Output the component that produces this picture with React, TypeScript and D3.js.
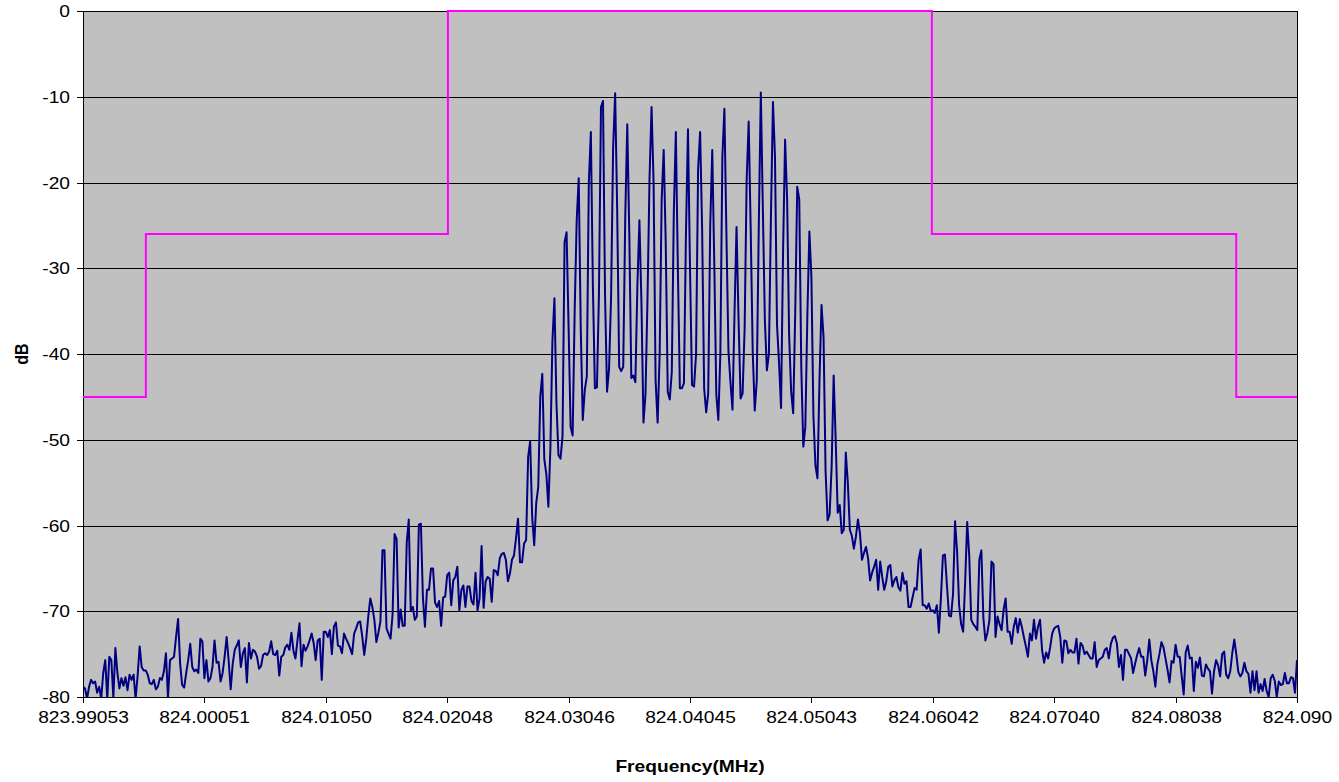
import React from 'react';
import * as d3 from 'd3';

// Frequency span of the sweep (MHz); samples are evenly spaced over it
const F_START = 823.99053;
const F_END = 824.0904;

const spectrumDb: number[] = [
  -78.8, -79.0, -80.2, -78.8, -78.0, -78.4, -78.2, -79.5, -78.8, -80.2,
  -77.2, -75.7, -80.2, -75.3, -75.7, -80.1, -74.3, -77.2, -79.0, -77.8,
  -78.7, -77.7, -79.2, -77.4, -78.0, -77.4, -80.2, -77.5, -74.1, -76.5,
  -76.9, -76.9, -77.4, -78.4, -78.5, -78.0, -79.1, -78.8, -77.8, -78.0,
  -77.0, -74.9, -80.1, -75.7, -75.5, -75.3, -73.0, -70.9, -76.1, -78.6,
  -78.9, -77.2, -75.7, -73.8, -76.5, -77.0, -76.8, -77.2, -73.2, -73.5,
  -77.8, -75.7, -78.2, -77.8, -76.5, -73.4, -76.0, -75.9, -78.2, -77.2,
  -75.3, -73.0, -75.8, -79.1, -76.1, -74.5, -74.0, -73.4, -76.5, -74.9,
  -74.3, -78.3, -73.7, -75.5, -74.5, -74.7, -75.3, -76.7, -76.4, -75.1,
  -74.9, -75.1, -74.7, -73.5, -75.0, -75.1, -74.6, -77.5, -75.3, -75.1,
  -74.2, -73.9, -74.5, -72.5, -74.6, -75.5, -73.4, -71.4, -76.4, -73.9,
  -74.6, -74.1, -73.4, -72.6, -73.7, -75.7, -73.4, -73.2, -78.0, -72.4,
  -72.4, -73.0, -72.2, -75.0, -71.8, -71.3, -74.0, -74.1, -74.9, -72.6,
  -73.2, -73.7, -74.3, -75.0, -72.6, -72.0, -71.3, -71.2, -72.9, -75.1,
  -73.2, -70.6, -68.5, -69.5, -71.0, -73.6, -72.5, -71.2, -62.9, -62.9,
  -72.0, -72.6, -73.2, -70.4, -61.0, -61.6, -71.9, -69.8, -71.7, -71.7,
  -62.0, -59.3, -69.9, -69.5, -71.0, -70.6, -59.9, -59.8, -68.4, -71.8,
  -67.5, -67.5, -65.0, -65.0, -69.0, -69.5, -68.8, -71.7, -68.4, -68.3,
  -65.8, -65.5, -69.3, -66.4, -66.0, -64.8, -69.9, -67.5, -67.0, -69.5,
  -67.1, -67.1, -68.8, -69.2, -65.5, -69.9, -68.5, -62.4, -69.6, -66.5,
  -66.0, -66.2, -68.9, -65.2, -65.3, -65.8, -63.8, -63.3, -63.2, -64.0,
  -66.5, -65.6, -64.0, -63.5, -61.5, -59.2, -64.3, -64.3, -62.1, -61.7,
  -52.0, -50.2, -59.0, -62.3, -57.4, -55.5, -45.0, -42.3, -52.3, -54.0,
  -57.8, -51.0, -38.5, -33.5, -45.8, -51.8, -52.2, -49.6, -27.0, -25.8,
  -36.9, -48.5, -49.5, -35.0, -24.4, -19.5, -37.0, -47.7, -44.2, -42.6,
  -20.0, -14.1, -32.0, -44.0, -43.9, -33.0, -11.2, -10.5, -33.0, -44.4,
  -41.7, -33.3, -16.0, -9.6, -23.0, -41.5, -42.0, -41.5, -24.0, -13.2,
  -26.0, -42.8, -42.5, -43.3, -32.0, -24.4, -34.0, -48.0, -44.7, -33.5,
  -19.5, -11.2, -20.0, -43.1, -48.0, -40.0, -22.0, -16.2, -27.0, -44.4,
  -45.3, -42.1, -23.5, -14.1, -30.0, -44.0, -44.0, -43.4, -26.0, -13.8,
  -30.0, -43.6, -43.8, -40.0, -18.5, -14.1, -25.5, -44.0, -46.8, -44.6,
  -25.0, -16.2, -29.4, -44.7, -47.7, -40.0, -17.0, -11.4, -26.0, -39.6,
  -43.3, -46.5, -35.3, -25.2, -36.0, -45.2, -44.6, -37.0, -19.7, -12.9,
  -25.5, -39.7, -46.6, -43.1, -25.0, -9.5, -23.0, -36.0, -41.9, -40.0,
  -24.0, -10.6, -17.0, -36.6, -41.0, -46.3, -28.0, -15.0, -22.0, -37.9,
  -44.4, -46.9, -35.3, -20.5, -22.0, -41.5, -50.8, -48.5, -35.5, -25.7,
  -31.0, -47.2, -53.0, -54.5, -43.0, -34.3, -38.0, -53.6, -59.4, -58.7,
  -53.1, -42.5, -50.0, -58.5, -57.6, -60.9, -60.5, -51.5, -55.0, -60.5,
  -61.2, -62.7, -61.3, -59.3, -60.9, -64.0, -63.2, -62.5, -63.8, -66.4,
  -65.5, -64.8, -64.0, -67.5, -64.2, -66.0, -67.5, -66.5, -64.8, -64.6,
  -67.1, -66.4, -66.0, -67.2, -67.6, -65.5, -66.8, -66.5, -69.5, -69.5,
  -68.4, -67.3, -67.5, -64.0, -62.8, -69.3, -69.3, -69.7, -69.1, -70.0,
  -69.9, -70.2, -69.3, -72.5, -68.5, -63.5, -63.4, -67.0, -70.5, -70.6,
  -68.0, -59.5, -63.0, -69.3, -71.5, -72.4, -66.5, -59.6, -63.5, -71.0,
  -71.5, -71.8, -72.2, -64.0, -62.9, -70.8, -73.4, -72.5, -71.0, -64.2,
  -64.5, -73.0, -70.6, -71.5, -72.2, -69.8, -68.5, -72.4, -72.4, -73.8,
  -71.8, -70.8, -72.5, -70.9, -71.8, -73.0, -74.1, -75.3, -72.6, -73.4,
  -71.0, -73.2, -71.8, -71.0, -74.5, -76.0, -74.8, -75.5, -74.2, -72.6,
  -72.0, -71.8, -71.7, -73.0, -76.0, -73.4, -73.5, -74.9, -74.5, -74.8,
  -74.8, -73.2, -76.1, -73.7, -74.0, -75.0, -74.7, -75.1, -75.5, -75.5,
  -73.6, -76.5, -75.7, -75.5, -75.3, -74.5, -74.3, -75.5, -73.8, -73.1,
  -72.9, -73.8, -76.5, -75.1, -78.0, -74.5, -74.5, -75.0, -75.5, -77.2,
  -76.1, -75.1, -74.3, -75.3, -75.3, -77.5, -75.7, -73.3, -75.7, -77.0,
  -78.8, -76.2, -75.0, -73.6, -74.2, -75.5, -76.8, -78.3, -75.8, -76.0,
  -73.9, -75.3, -75.3, -77.5, -79.7, -74.8, -74.0, -75.5, -75.4, -79.3,
  -75.9, -76.6, -75.4, -77.5, -77.6, -76.2, -76.7, -77.0, -79.6, -77.0,
  -75.7, -76.3, -77.6, -75.0, -74.7, -77.4, -77.8, -77.0, -74.9, -73.3,
  -75.0, -77.1, -77.6, -77.2, -76.0, -77.0, -77.3, -79.5, -77.0, -79.2,
  -77.0, -79.5, -78.5, -79.3, -77.9, -79.3, -80.0, -77.8, -77.4, -78.1,
  -80.0, -78.2, -78.6, -78.5, -77.2, -78.4, -78.4, -77.7, -77.8, -79.5,
  -75.7,
];

// Category tick labels on the frequency axis
const tickLabels = [
  '823.99053', '824.00051', '824.01050', '824.02048', '824.03046',
  '824.04045', '824.05043', '824.06042', '824.07040', '824.08038', '824.090',
];

// dB gridlines / tick values
const yTicks = [0, -10, -20, -30, -40, -50, -60, -70, -80];

// Spectral emission mask (limit line)
const maskFreqs = [
  823.99053, 823.9957, 823.9957, 824.02055, 824.02055,
  824.06036, 824.06036, 824.0854, 824.0854, 824.0904,
];
const maskDb = [-45, -45, -26, -26, 0, 0, -26, -26, -45, -45];

const FONT = "'Liberation Sans', Arial, sans-serif";
const SX = 1.2; // horizontal stretch of the original bitmap text

export default function App() {
  const W = 1339;
  const H = 782;
  const left = 83;
  const right = 1297;
  const top = 11;
  const bottom = 697;

  const n = spectrumDb.length;
  const freqs = spectrumDb.map((_, i) => F_START + ((F_END - F_START) * i) / (n - 1));

  const x = d3.scaleLinear().domain([F_START, F_END]).range([left, right]);
  const y = d3.scaleLinear().domain([-80, 0]).range([bottom, top]);

  const specPath = d3
    .line<number>()
    .x((_, i) => x(freqs[i]))
    .y((d) => y(d))(spectrumDb) as string;

  const maskPath = d3
    .line<number>()
    .x((_, i) => x(maskFreqs[i]))
    .y((d) => y(d))(maskDb) as string;

  const tickStep = (n - 1) / (tickLabels.length - 1);

  return (
    <svg
      width={W}
      height={H}
      style={{ position: 'absolute', left: 0, top: 0, background: '#fff' }}
      fontFamily={FONT}
    >
      <defs>
        <clipPath id="plot">
          <rect x={left} y={top} width={right - left} height={bottom - top} />
        </clipPath>
      </defs>
      <rect x={left} y={top} width={right - left} height={bottom - top} fill="#C0C0C0" />
      {yTicks.map((t) => (
        <line
          key={'g' + t}
          x1={left}
          x2={right}
          y1={Math.round(y(t)) + 0.5}
          y2={Math.round(y(t)) + 0.5}
          stroke="#000"
          strokeWidth={1}
        />
      ))}
      <path d={specPath} fill="none" stroke="#000080" strokeWidth={2} clipPath="url(#plot)" strokeLinejoin="round" />
      <rect x={left + 0.5} y={top + 0.5} width={right - left} height={bottom - top} fill="none" stroke="#000" strokeWidth={1} />
      <path d={maskPath} fill="none" stroke="#FF00FF" strokeWidth={2} />
      {yTicks.map((t) => (
        <g key={'y' + t}>
          <line x1={left - 6} x2={left} y1={Math.round(y(t)) + 0.5} y2={Math.round(y(t)) + 0.5} stroke="#000" />
          <text
            transform={`translate(${left - 13},${y(t) + 6}) scale(${SX},1)`}
            textAnchor="end"
            fontSize={16}
            fill="#000"
          >
            {t}
          </text>
        </g>
      ))}
      {tickLabels.map((lab, k) => {
        const xx = Math.round(x(freqs[Math.round(k * tickStep)])) + 0.5;
        return (
          <g key={'x' + k}>
            <line x1={xx} x2={xx} y1={bottom} y2={bottom + 6} stroke="#000" />
            <text
              transform={`translate(${xx},${bottom + 26}) scale(${SX},1)`}
              textAnchor="middle"
              fontSize={16}
              fill="#000"
            >
              {lab}
            </text>
          </g>
        );
      })}
      <text
        transform={`translate(${(left + right) / 2},${H - 10}) scale(${SX},1)`}
        textAnchor="middle"
        fontSize={16}
        fontWeight="bold"
        fill="#000"
      >
        Frequency(MHz)
      </text>
      <text
        transform={`translate(28,${(top + bottom) / 2}) rotate(-90) scale(1,${SX})`}
        textAnchor="middle"
        fontSize={16}
        fontWeight="bold"
        fill="#000"
      >
        dB
      </text>
    </svg>
  );
}
